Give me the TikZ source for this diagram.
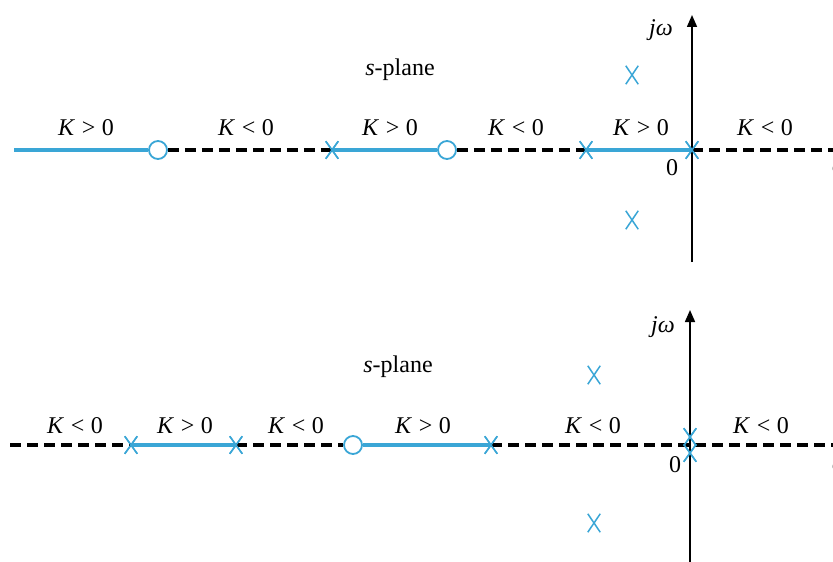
\documentclass[tikz,border=0pt]{standalone}
\usepackage{fontspec}
\setmainfont{Liberation Serif}
\usetikzlibrary{arrows.meta,shapes.misc}
\definecolor{locusblue}{RGB}{58,166,214}

\begin{document}
\begin{tikzpicture}[
  x=0.5pt, y=-0.5pt,
  font=\fontsize{12}{14}\selectfont,
  % marks on the real axis: open circle for a zero, cross for a pole
  zeromark/.style={circle, draw=locusblue, fill=white, line width=0.9pt,
    minimum size=9pt, inner sep=0pt},
  polemark/.style={cross out, draw=locusblue, line width=0.75pt,
    minimum width=5.5pt, minimum height=8pt, inner sep=0pt},
  cpolemark/.style={cross out, draw=locusblue, line width=0.75pt,
    minimum width=5.5pt, minimum height=8.5pt, inner sep=0pt},
  poslocus/.style={draw=locusblue, line width=1.8pt},
  neglocus/.style={draw=black, line width=1.8pt, dash pattern=on 5.5pt off 3pt},
  axisline/.style={-{Triangle[length=6pt,width=5pt]}, line width=0.8pt},
  gain/.style={inner sep=1pt}
]
\useasboundingbox (0,0) rectangle (833,561);

% upper plot
\coordinate (tleft) at (14,150);
\coordinate (tright) at (840,150);
\coordinate (tbottom) at (692,262);
\coordinate (ttop) at (692,15);
\draw[axisline] (tbottom) -- (ttop);
\node[zeromark] (z1) at (158,150) {};
\node[polemark] (p1) at (332,150) {};
\node[zeromark] (z2) at (447,150) {};
\node[polemark] (p2) at (586,150) {};
\node[polemark] (p3) at (692,150) {};
\path[poslocus] (tleft) -- (z1.west);
\path[neglocus] (z1.east) -- (p1.center);
\path[poslocus] (p1.center) -- (z2.west);
\path[neglocus] (z2.east) -- (p2.center);
\path[poslocus] (p2.center) -- (p3.center);
\path[neglocus] (p3.center) -- (tright);
\node[polemark] at (p1) {};
\node[polemark] at (p2) {};
\node[polemark] at (p3) {};
\node[cpolemark] (pa) at (632,75) {};
\node[cpolemark] (pb) at (632,220) {};

\node[gain] (k1) at (86,128) {\textit{K}\;>\;0};
\node[gain] (k2) at (246,128) {\textit{K}\;<\;0};
\node[gain] (k3) at (390,128) {\textit{K}\;>\;0};
\node[gain] (k4) at (516,128) {\textit{K}\;<\;0};
\node[gain] (k5) at (641,128) {\textit{K}\;>\;0};
\node[gain] (k6) at (765,128) {\textit{K}\;<\;0};
\node (plane1) at (400,70) {\textit{s}-plane};
\node (jw1) at (661,30) {\textit{jω}};
\node (o1) at (672,168) {0};
\node[anchor=west] (sig1) at (825,167) {\textit{σ}};

% lower plot
\coordinate (bleft) at (10,445);
\coordinate (bright) at (840,445);
\coordinate (bbottom) at (690,566);
\coordinate (btop) at (690,310);
\draw[axisline] (bbottom) -- (btop);
\node[polemark] (p4) at (131,445) {};
\node[polemark] (p5) at (236,445) {};
\node[zeromark] (z3) at (353,445) {};
\node[polemark] (p6) at (491,445) {};
\node[polemark] (p7) at (690,437) {};
\node[polemark] (p8) at (690,453) {};
\path[neglocus] (bleft) -- (p4.center);
\path[poslocus] (p4.center) -- (p5.center);
\path[neglocus] (p5.center) -- (z3.west);
\path[poslocus] (z3.east) -- (p6.center);
\path[neglocus] (p6.center) -- (bright);
\node[polemark] at (p4) {};
\node[polemark] at (p5) {};
\node[polemark] at (p6) {};
\node[polemark] at (p7) {};
\node[polemark] at (p8) {};
\node[cpolemark] (pc) at (594,375) {};
\node[cpolemark] (pd) at (594,523) {};

\node[gain] (k7) at (75,426) {\textit{K}\;<\;0};
\node[gain] (k8) at (185,426) {\textit{K}\;>\;0};
\node[gain] (k9) at (296,426) {\textit{K}\;<\;0};
\node[gain] (k10) at (423,426) {\textit{K}\;>\;0};
\node[gain] (k11) at (593,426) {\textit{K}\;<\;0};
\node[gain] (k12) at (761,426) {\textit{K}\;<\;0};
\node (plane2) at (398,367) {\textit{s}-plane};
\node (jw2) at (663,327) {\textit{jω}};
\node (o2) at (675,465) {0};
\node[anchor=west] (sig2) at (825,465) {\textit{σ}};
\end{tikzpicture}
\end{document}
